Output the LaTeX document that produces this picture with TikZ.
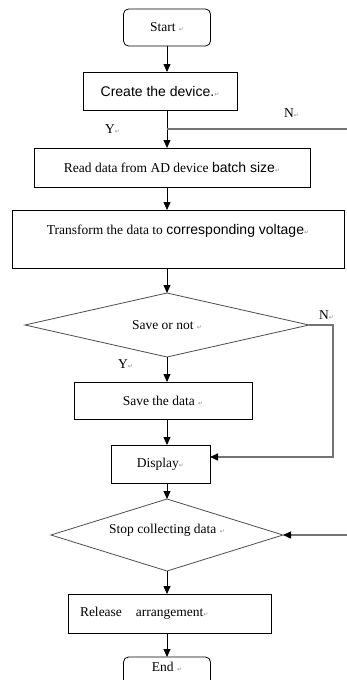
\documentclass[tikz,border=0pt]{standalone}
\usepackage{fontspec}
\setmainfont{Liberation Serif}
\setsansfont{Liberation Sans}
\newfontfamily\markfont{DejaVu Sans}
\usetikzlibrary{shapes.geometric,arrows.meta}
\newcommand{\retmark}{{\markfont\fontsize{6}{6}\selectfont\color{black!45}\symbol{"21B5}}}
\newcommand{\arial}[1]{{\sffamily\fontsize{14}{16}\selectfont #1}}

\begin{document}
\begin{tikzpicture}[x=1pt,y=-1pt,inner sep=0pt,outer sep=0pt,line width=0.8pt,
>={Triangle[width=7pt,length=8pt,color=black]},
font=\fontsize{13.5}{16}\selectfont,
procblock/.style={draw,rectangle,minimum height=38pt},
termblock/.style={draw,rectangle,rounded corners=5pt,minimum width=87pt,minimum height=37pt},
testblock/.style={draw=black!70,diamond,aspect=#1},
loopline/.style={draw=black!55,line width=1.3pt}]

\useasboundingbox (0,0) rectangle (347,680);
\clip (0,0) rectangle (347,680);

\draw (167,27.5) node[termblock] (start) {Start \retmark};
\draw (160,91) node[procblock,minimum width=154pt] (create) {\arial{Create the device.}\retmark};
\draw (172,167.5) node[procblock,minimum width=276pt,minimum height=39pt] (read) {Read data from AD device \arial{batch size}\retmark};
\draw (178,239) node[procblock,minimum width=332pt,minimum height=58pt,text height=10pt,text depth=19pt] (trans) {Transform the data to \arial{corresponding voltage}\retmark};
\draw (167,325) node[testblock=4.4,minimum width=284pt,minimum height=64pt] (ifsave) {Save or not \retmark};
\draw (163,400.5) node[procblock,minimum width=178pt,minimum height=37pt] (savedata) {Save the data \retmark};
\draw (160.5,464) node[procblock,minimum width=99pt] (disp) {Display\retmark};
\draw (167,535) node[testblock=3.2,minimum width=232pt,minimum height=72pt,text height=9pt,text depth=13pt] (ifstop) {Stop collecting data \retmark};
\draw (169.5,613.5) node[procblock,minimum width=203pt,minimum height=39pt,text width=179pt,align=left] (release) {Release\hspace{14pt}arrangement\retmark};
\draw (167,675.5) node[termblock,text height=9pt,text depth=17pt] (end) {End \retmark};

% branch labels
\draw (105,129) node[anchor=west] (ycreate) {Y\retmark};
\draw (284,113) node[anchor=west] (ncreate) {N\retmark};
\draw (118,364) node[anchor=west] (ysave) {Y\retmark};
\draw (319,315) node[anchor=west] (nsave) {N\retmark};

\coordinate (nin1) at (347,129);
\coordinate (nin2) at (347,535);
\coordinate (nturn) at (333,457);

\draw[->] (start.south) -- (start |- create.north);
\draw[->] (create.south -| start) -- (read.north -| start);
\draw[->] (read.south -| start) -- (trans.north -| start);
\draw[->] (trans.south -| start) -- (ifsave.north);
\draw[->] (ifsave.south) -- (savedata.north -| ifsave);
\draw[->] (savedata.south -| start) -- (disp.north -| start);
\draw[->] (disp.south -| start) -- (ifstop.north);
\draw[->] (ifstop.south) -- (release.north -| ifstop);
\draw[->] (release.south -| start) -- (end.north);

\draw[loopline] (nin1) -- (start |- nin1);
\draw[loopline,->] (ifsave.east) -| (nturn) -- (nturn -| disp.east);
\draw[loopline,->] (nin2) -- (ifstop.east);
\end{tikzpicture}
\end{document}
